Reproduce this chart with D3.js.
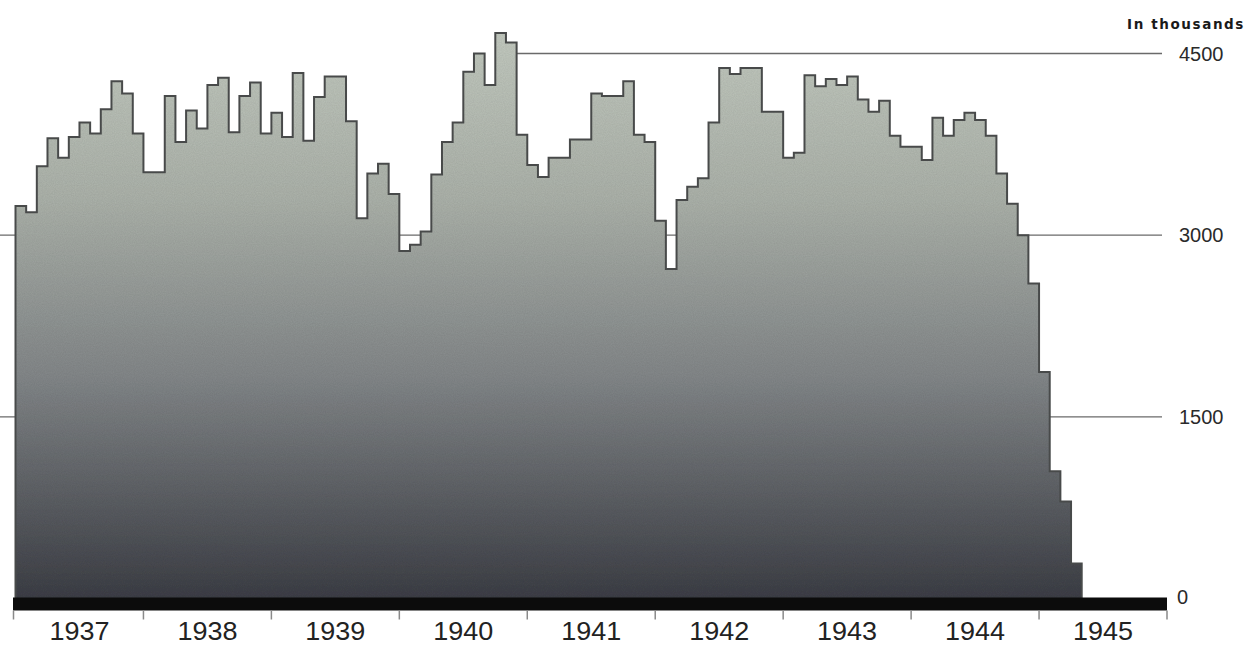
<!DOCTYPE html>
<html>
<head>
<meta charset="utf-8">
<script src="https://cdn.jsdelivr.net/npm/d3@7"></script>
<style>
  html, body { margin: 0; padding: 0; background: #ffffff; }
  svg { display: block; }
</style>
</head>
<body>
<svg id="chart" width="1258" height="647"></svg>
<script>
// ---- data (thousands, monthly Jan 1937 – Apr 1945) ----
const years = ["1937","1938","1939","1940","1941","1942","1943","1944","1945"];
const yTicks = [0, 1500, 3000, 4500];
const unitLabel = "In thousands";
const values = [
  3240, 3190, 3570, 3800, 3640, 3810, 3930, 3840, 4040, 4270, 4170, 3840, // 1937
  3520, 3520, 4150, 3770, 4030, 3880, 4240, 4300, 3850, 4150, 4260, 3840, // 1938
  4010, 3810, 4340, 3780, 4140, 4310, 4310, 3940, 3140, 3510, 3590, 3340, // 1939
  2870, 2920, 3030, 3500, 3770, 3930, 4350, 4500, 4240, 4670, 4590, 3830, // 1940
  3580, 3480, 3640, 3640, 3790, 3790, 4170, 4150, 4150, 4270, 3830, 3770, // 1941
  3120, 2720, 3290, 3400, 3470, 3930, 4380, 4330, 4380, 4380, 4020, 4020, // 1942
  3640, 3680, 4320, 4230, 4290, 4240, 4310, 4120, 4020, 4110, 3820, 3730, // 1943
  3730, 3620, 3970, 3820, 3950, 4010, 3950, 3820, 3510, 3260, 3000, 2600, // 1944
  1870, 1050, 800, 290                                                     // 1945
];

const svg = d3.select("#chart");

const x = d3.scaleLinear().domain([0, years.length * 12]).range([15.5, 1167]);
const y = d3.scaleLinear().domain([0, 4500]).range([598.5, 53.5]);

// gradient fill
const defs = svg.append("defs");
const grad = defs.append("linearGradient")
  .attr("id", "fillGrad").attr("gradientUnits", "userSpaceOnUse")
  .attr("x1", 0).attr("x2", 0).attr("y1", 40).attr("y2", 600);
[[0, "#c2c9bf"], [0.28, "#adb3ab"], [0.6, "#84888a"], [1, "#3d3f46"]].forEach(([o, c]) =>
  grad.append("stop").attr("offset", o).attr("stop-color", c));

// subtle grain texture
const filt = defs.append("filter").attr("id", "grain").attr("x", 0).attr("y", 0).attr("width", 1).attr("height", 1);
filt.append("feTurbulence").attr("type", "fractalNoise").attr("baseFrequency", 0.9).attr("numOctaves", 2).attr("seed", 3).attr("result", "n");
filt.append("feColorMatrix").attr("in", "n").attr("type", "matrix")
  .attr("values", "0 0 0 0 0  0 0 0 0 0  0 0 0 0 0  0 0 0 0.18 0").attr("result", "na");
filt.append("feComposite").attr("in", "na").attr("in2", "SourceGraphic").attr("operator", "in").attr("result", "nc");
filt.append("feMerge").selectAll("feMergeNode").data(["SourceGraphic", "nc"]).enter()
  .append("feMergeNode").attr("in", d => d);

// gridlines (behind area)
const gridStart = { 1500: 0, 3000: 0, 4500: x(46) };
svg.append("g").selectAll("line").data(yTicks.filter(t => t > 0)).enter().append("line")
  .attr("x1", d => gridStart[d]).attr("x2", 1162)
  .attr("y1", d => y(d)).attr("y2", d => y(d))
  .attr("stroke", "#6a6a6a").attr("stroke-width", 1.4);

// step data
const pts = values.map((v, i) => ({ m: i, v }));
pts.push({ m: values.length, v: values[values.length - 1] });

const area = d3.area().curve(d3.curveStepAfter)
  .x(d => x(d.m)).y0(y(0)).y1(d => y(d.v));
svg.append("path").datum(pts).attr("d", area)
  .attr("fill", "url(#fillGrad)").attr("filter", "url(#grain)");

const linePts = [{ m: 0, v: 0 }].concat(pts).concat([{ m: values.length, v: 0 }]);
const line = d3.line().curve(d3.curveStepAfter).x(d => x(d.m)).y(d => y(d.v));
svg.append("path").datum(linePts).attr("d", line)
  .attr("fill", "none").attr("stroke", "#484a4a").attr("stroke-width", 2)
  .attr("stroke-linejoin", "miter");

// baseline bar
svg.append("rect").attr("x", 13).attr("y", y(0) - 1).attr("width", x(108) - 13).attr("height", 13)
  .attr("fill", "#0c0c0c");

// year ticks
const yearBounds = d3.range(0, years.length * 12 + 1, 12);
svg.append("g").selectAll("line").data(yearBounds).enter().append("line")
  .attr("x1", d => x(d) - (d === 0 ? 2 : 0)).attr("x2", d => x(d) - (d === 0 ? 2 : 0))
  .attr("y1", y(0) + 12).attr("y2", y(0) + 21)
  .attr("stroke", "#8a8a8a").attr("stroke-width", 1.5);

// year labels
svg.append("g").selectAll("text").data(years).enter().append("text")
  .attr("x", (d, i) => x(i * 12 + 6))
  .attr("y", 640)
  .attr("text-anchor", "middle")
  .attr("font-family", "Liberation Sans, Arial, sans-serif")
  .attr("font-size", 26)
  .attr("fill", "#222")
  .attr("textLength", 60).attr("lengthAdjust", "spacingAndGlyphs")
  .text(d => d);

// value labels
svg.append("g").selectAll("text").data(yTicks).enter().append("text")
  .attr("x", d => d === 0 ? 1177 : 1179)
  .attr("y", d => d === 0 ? y(0) + 5 : y(d) + 7)
  .attr("font-family", "Liberation Sans, Arial, sans-serif")
  .attr("font-size", 20)
  .attr("fill", "#2a2a2a")
  .text(d => d);

// unit label
svg.append("text").attr("x", 1245).attr("y", 29).attr("text-anchor", "end")
  .attr("font-family", "DejaVu Sans, sans-serif").attr("font-weight", "bold")
  .attr("font-size", 13.5).attr("letter-spacing", 1.6).attr("fill", "#1a1a1a")
  .text(unitLabel);
</script>
</body>
</html>
